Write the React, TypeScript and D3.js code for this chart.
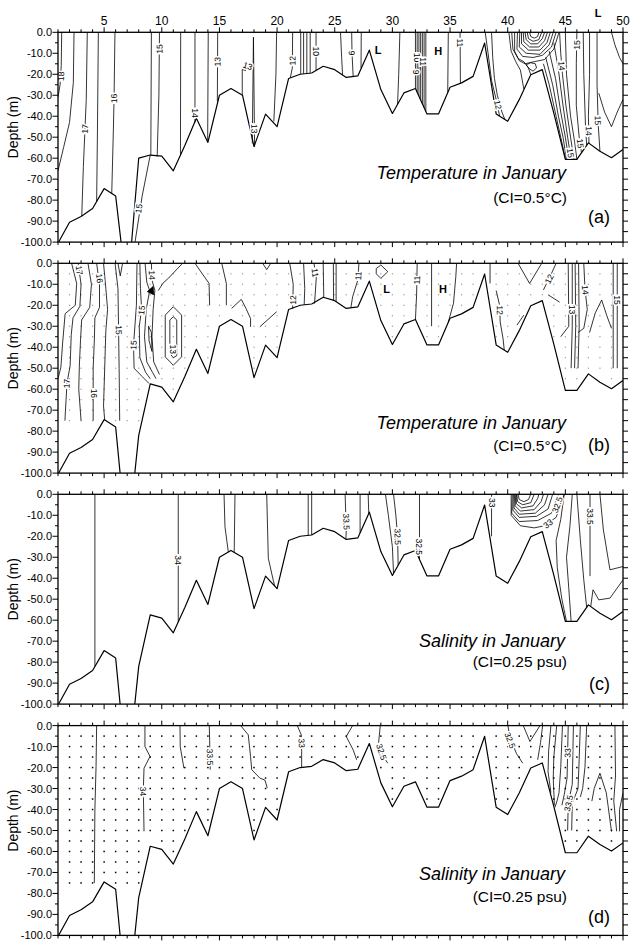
import React from "react";
import * as d3 from "d3";

type Pt = [number, number];
type Lab = [string, number, number];

// ---------- axes ----------
const stationTicks = d3.range(1, 51);
const topTickLabels = [5, 10, 15, 20, 25, 30, 35, 40, 45, 50];
const depthTicks = d3.range(0, -100.1, -5);
const depthLabelTicks = [0, -10, -20, -30, -40, -50, -60, -70, -80, -90, -100];
const dotDepths = d3.range(-5, -75.1, -5);

// ---------- sea floor (station 1..50, depth m) ----------
const groundBCD = [
  -100.5, -90.5, -87.8, -84, -74.5, -78, -135, -82, -57.5, -59,
  -66, -54, -41, -52.5, -30, -26.8, -30, -54.5, -39, -45,
  -22, -20, -19.4, -16.2, -17.8, -21.5, -20.8, -8.5, -27.3, -38.7,
  -28.9, -26.8, -38.9, -38.9, -26.2, -24.1, -21, -5.1, -38.9, -42.4,
  -32.1, -20.2, -17.8, -38.5, -60.6, -60.6, -52.7, -56.7, -59.8, -55.9,
];
const groundA = [
  -100.5, -90.5, -87.8, -84, -74.5, -78, -125, -60, -58.5, -59,
  -66, -54, -41, -52.5, -30, -26.8, -30, -54.5, -39, -45,
  -22, -20, -19.4, -16.2, -17.8, -21.5, -20.8, -8.5, -27.3, -38.7,
  -28.9, -26.8, -38.9, -38.9, -26.2, -24.1, -21, -5.1, -38.9, -42.4,
  -32.1, -20.2, -17.8, -38.5, -60.6, -60.6, -52.7, -56.7, -59.8, -55.9,
];

// ---------- (a) temperature contours ----------
const contoursA: Pt[][] = [
  [[1.32, 0], [1.28, -16], [1.18, -25], [1, -31]],
  [[2.39, 0], [2.33, -24], [2.0, -43], [1.48, -55], [1, -66]],
  [[3.54, 0], [3.45, -32], [3.2, -64], [3.06, -87.6]],
  [[4.5, 0], [4.42, -48], [4.35, -80.8]],
  [[5.94, 0], [5.86, -32], [5.8, -47], [5.66, -77]],
  [[9.1, 0], [9.05, -58.5]],
  [[9.8, 0], [9.75, -30], [9.6, -59.2]],
  [[9.0, -58.5], [8.3, -78], [7.68, -100]],
  [[11.64, 0], [11.62, -58.6]],
  [[12.88, 0], [12.88, -43]],
  [[14.03, 0], [13.98, -52]],
  [[14.85, 0], [14.82, -33]],
  [[16.98, -30], [16.98, -17.7], [17.3, -18.3]],
  [[17.85, -53], [17.95, -2.3], [18.05, -54.5]],
  [[19.96, 0], [19.9, -20], [19.72, -42.5]],
  [[21.35, 0], [21.32, -17], [21.15, -21.6]],
  [[22.05, 0], [22.05, -19.9]],
  [[22.3, 0], [22.3, -19.8]],
  [[22.58, 0], [22.58, -19.6]],
  [[22.87, 0], [22.87, -19.5]],
  [[23.38, 0], [23.38, -18.2]],
  [[25.5, 0], [25.6, -12], [25.68, -20.3]],
  [[26.47, 0], [26.5, -10], [26.6, -21.1]],
  [[27.3, 0], [27.28, -17.1]],
  [[30.65, 0], [30.55, -20], [30.45, -34.3]],
  [[32.0, 0], [32.0, -26.8]],
  [[32.15, 0], [32.15, -28.6]],
  [[32.3, 0], [32.3, -30.4]],
  [[32.45, 0], [32.45, -32.2]],
  [[32.6, 0], [32.6, -34.1]],
  [[32.75, 0], [32.75, -35.9]],
  [[32.9, 0], [32.9, -37.7]],
  [[34.85, 0], [34.8, -28.5]],
  [[35.87, 0], [35.9, -24.3]],
  [[38.05, 0], [38.3, -10], [38.6, -23], [39.0, -32], [39.3, -39.9]],
  [[38.6, 0], [38.7, -12], [38.85, -22], [39.1, -30], [39.5, -38], [39.75, -41.5]],
  [[41.9, 0], [42.0, -2], [42.3, -2.8], [42.6, -2], [42.7, 0]],
  [[41.7, 0], [41.8, -3], [42.2, -4.3], [42.7, -3.5], [42.95, 0]],
  [[41.5, 0], [41.6, -3.5], [42.0, -5.5], [42.6, -5.5], [43.0, -3], [43.2, 0]],
  [[41.35, 0], [41.4, -4.5], [41.9, -7], [42.7, -7], [43.2, -4], [43.45, 0]],
  [[41.2, 0], [41.2, -5.5], [41.8, -8.5], [42.8, -8.5], [43.4, -5], [43.7, 0]],
  [[41.05, 0], [41.0, -7], [41.6, -10], [42.8, -10.5], [43.6, -6], [43.95, 0]],
  [[40.85, 0], [40.8, -8], [41.3, -11.5], [42.2, -12], [43.0, -11], [43.8, -7], [44.2, 0]],
  [[40.6, 0], [40.6, -9], [41.0, -13.5], [41.5, -15], [42.3, -14], [43.2, -13], [44.0, -8], [44.45, 0]],
  [[40.1, 0], [40.3, -9], [40.7, -14], [41.1, -18], [41.4, -27]],
  [[40.35, 0], [40.45, -8], [40.9, -12.5], [41.4, -14], [41.8, -17], [42.0, -20.2]],
  [[41.6, -15.5], [42.0, -14.5], [42.4, -15], [42.5, -17], [42.2, -18.5], [41.9, -17.5], [41.6, -15.5]],
  [[43.1, -15], [43.6, -25], [44.2, -40], [44.6, -50], [45.0, -60]],
  [[43.3, -12], [43.9, -25], [44.4, -40], [44.8, -50], [45.1, -60.6]],
  [[43.6, -9], [44.15, -22], [44.6, -38], [45.0, -50], [45.3, -60.6]],
  [[44.0, -5], [44.4, -18], [44.8, -35], [45.2, -50], [45.5, -60.6]],
  [[44.5, 0], [44.6, -10], [44.75, -20], [45.05, -35], [45.45, -50], [45.75, -60.6]],
  [[45.0, 0], [45.1, -20], [45.45, -40], [45.8, -52], [46.0, -60.6]],
  [[46.0, 0], [45.95, -15], [45.95, -35], [46.2, -50], [46.4, -57.4]],
  [[46.55, 0], [46.6, -20], [46.75, -45], [46.85, -53.9]],
  [[47.1, 0], [47.1, -20], [47.0, -40], [47.05, -52.9]],
  [[47.75, 0], [47.75, -25], [47.85, -44], [48.0, -56.7]],
  [[47.9, -29], [48.4, -38], [49.0, -45], [49.5, -38], [50, -32]],
  [[49.0, 0], [49.3, -6], [49.7, -12], [50, -15]],
];
const labelsA: Lab[] = [
  ["18", 1.26, -21], ["17", 3.34, -46], ["16", 5.86, -31.5], ["15", 9.8, -8], ["15", 8.0, -84],
  ["14", 12.88, -38.5], ["13", 14.83, -14], ["13", 17.45, -16], ["13", 18.03, -46], ["12", 21.34, -13.5],
  ["10", 23.38, -9], ["9", 26.48, -9.9], ["10", 32.15, -12], ["9", 32.05, -19], ["11", 32.65, -14],
  ["11", 35.87, -5], ["12", 39.15, -34.5], ["14", 44.68, -16], ["15", 46.0, -6], ["15", 45.45, -57.5],
  ["15", 46.3, -53], ["14", 47.03, -47], ["15", 47.82, -42],
];
const marksA: Lab[] = [["L", 28.77, -10.4], ["H", 33.97, -10.7], ["L", 47.85, 7.4]];

// ---------- (b) temperature contours ----------
const contoursB: Pt[][] = [
  [[2.18, 0], [2.62, -9.6], [2.5, -20], [1.62, -24], [1.4, -38], [1.25, -49.5], [1, -55]],
  [[2.75, 0], [3.0, -10], [2.9, -20.5], [2.3, -26], [2.15, -34], [2.05, -49], [1.78, -57], [1.6, -75]],
  [[3.6, 0], [3.9, -10], [3.75, -21], [3.05, -27], [2.95, -37], [2.85, -49], [2.8, -60], [3.0, -75]],
  [[4.35, 0], [4.6, -10], [4.6, -21], [4.2, -26], [4.15, -37], [4.05, -50], [4.05, -75]],
  [[4.95, 0], [5.15, -12], [5.3, -22], [5.15, -32], [5.05, -50], [4.95, -68], [5.05, -74.8]],
  [[5.95, 0], [6.2, -12], [6.25, -30], [6.3, -50], [6.35, -75]],
  [[6.2, 0], [6.4, -6], [6.6, 0]],
  [[7.85, 0], [7.8, -20], [7.55, -39], [7.6, -50], [8.3, -54], [8.9, -57.3]],
  [[8.1, 0], [8.15, -12], [8.25, -22], [8.05, -30], [8.1, -45], [8.6, -52], [9.0, -55]],
  [[8.55, 0], [8.7, -9], [8.95, -13], [8.65, -22], [8.5, -35], [8.7, -47], [9.2, -52], [9.5, -55]],
  [[9.1, 0], [9.15, -8], [9.4, -13], [9.25, -22], [9.15, -35], [9.3, -47], [9.8, -53]],
  [[11.8, 0], [10.6, -7], [10.1, -9.5], [9.7, -13]],
  [[8.85, -30], [9.1, -33], [9.15, -42], [8.9, -37], [8.85, -30]],
  [[10.3, -24.7], [11.0, -20.7], [11.72, -24.7], [11.72, -44.6], [11.0, -48.6], [10.3, -44.6], [10.3, -24.7]],
  [[10.7, -27], [11.0, -25.5], [11.3, -27], [11.3, -44], [11.0, -45], [10.7, -43], [10.7, -27]],
  [[12.88, 0], [14.1, -9.6], [14.15, -20]],
  [[15.2, 0], [15.6, -9.6], [15.6, -20]],
  [[16.06, -21.5], [16.9, -17.2], [17.3, -21.5], [17.7, -26.3], [17.7, -30.3]],
  [[18.5, -30.3], [19.96, -23.1]],
  [[18.75, 0], [19.1, -3], [19.45, 0]],
  [[21.1, 0], [21.4, -10], [21.35, -21.7]],
  [[22.3, 0], [22.4, -12], [22.35, -19.8]],
  [[23.2, 0], [23.4, -7], [23.25, -19.2]],
  [[24.0, 0], [24.05, -16.2]],
  [[24.88, 0], [24.9, -17.6]],
  [[25.12, 0], [25.12, -18.2]],
  [[27.1, 0], [27.0, -8], [26.55, -16], [26.4, -21.2]],
  [[28.6, -2.5], [29.0, -0.8], [29.6, -4], [29.0, -7.2], [28.6, -5], [28.6, -2.5]],
  [[32.15, 0], [32.1, -15], [32.0, -26.8]],
  [[33.4, 0], [33.4, -30]],
  [[35.57, 0], [35.5, -6.4], [35.3, -19], [34.85, -28.1]],
  [[38.47, 0], [38.47, -9.6]],
  [[39.0, -13], [39.3, -20], [39.35, -28], [39.6, -36], [39.7, -41.3]],
  [[40.8, -29.5], [41.4, -24.7]],
  [[40.9, 0], [41.9, -9.6], [42.95, 0]],
  [[44.2, 0], [43.8, -4.8], [43.1, -12.7]],
  [[43.5, -15], [44.5, -18.5]],
  [[45.25, 0], [45.3, -30], [44.6, -35]],
  [[45.6, 0], [45.6, -30], [45.5, -50]],
  [[45.85, 0], [45.9, -30], [45.8, -50]],
  [[46.15, 0], [46.2, -30], [46.1, -50]],
  [[46.6, 0], [46.7, -12], [46.9, -22], [46.6, -31], [46.1, -33]],
  [[47.1, -33], [47.6, -23.6], [48.15, -17.5], [48.6, -25], [49.0, -31]],
  [[49.15, 0], [49.15, -50]],
  [[49.5, 0], [49.5, -50]],
];
const filledB: Pt[][] = [[[8.75, -13.5], [9.25, -11], [9.3, -15], [8.75, -13.5]]];
const labelsB: Lab[] = [
  ["17", 2.85, -3.3], ["16", 4.6, -7.2], ["17", 1.75, -57.3], ["16", 4.08, -62], ["15", 6.27, -31.8],
  ["15", 7.55, -39], ["15", 8.25, -22.3], ["14", 9.15, -5.6], ["13", 11.0, -41], ["12", 21.38, -17.5],
  ["11", 23.3, -4.5], ["11", 27.05, -6], ["11", 32.13, -8], ["12", 39.32, -22.3], ["12", 43.6, -7.5],
  ["13", 45.6, -22], ["14", 46.72, -12.7], ["15", 49.5, -17.5],
];
const marksB: Lab[] = [["L", 29.5, -14], ["H", 34.39, -14.3]];

// ---------- (c) salinity contours ----------
const contoursC: Pt[][] = [
  [[4.2, 0], [4.2, -82.1]],
  [[11.43, 0], [11.43, -60.8]],
  [[15.4, 0], [15.48, -15.4], [15.77, -27.5]],
  [[16.35, 0], [16.28, -27.7]],
  [[19.1, 0], [19.24, -30.5], [19.67, -41], [19.8, -43.8]],
  [[22.7, 0], [22.7, -19.6]],
  [[23.0, 0], [23.0, -19.4]],
  [[25.9, 0], [26.0, -17], [25.97, -21.4]],
  [[27.2, 0], [27.2, -18.3]],
  [[27.9, 0], [27.95, -9.1]],
  [[29.4, 0], [29.65, -10], [30.0, -25], [30.1, -37.7]],
  [[30.1, 0], [30.3, -10], [30.45, -20], [30.5, -33.8]],
  [[32.35, 0], [32.35, -31]],
  [[38.6, 0], [38.6, -20]],
  [[40.9, 0], [41.0, -2.5], [41.4, -3.5], [41.8, -2.5], [42.0, 0]],
  [[40.8, 0], [40.85, -3.5], [41.3, -5], [42.0, -4], [42.3, 0]],
  [[40.75, 0], [40.75, -4.5], [41.2, -6.5], [42.2, -5.5], [42.6, -2], [42.7, 0]],
  [[40.7, 0], [40.65, -5.5], [41.1, -8], [42.3, -7.3], [42.9, -3.5], [43.1, 0]],
  [[40.6, 0], [40.55, -6.5], [41.0, -9.5], [42.4, -9], [43.2, -5], [43.5, 0]],
  [[40.5, 0], [40.45, -7.5], [41.0, -11], [42.5, -10.5], [43.5, -7], [43.9, 0]],
  [[40.4, 0], [40.35, -9], [41.0, -13], [42.6, -12.5], [43.8, -9], [44.4, 0]],
  [[40.3, 0], [40.3, -10], [41.1, -15], [42.3, -16], [43.2, -15], [44.2, -11], [44.9, 0]],
  [[44.9, 0], [44.6, -12], [44.2, -22], [44.3, -35], [44.7, -50], [45.1, -60.6]],
  [[45.6, 0], [45.4, -15], [45.1, -30], [45.3, -45], [45.5, -60.6]],
  [[46.0, 0], [46.3, -21.7], [46.6, -40.8], [46.85, -53.9]],
  [[47.14, 0], [47.14, -39]],
  [[48.0, 0], [48.3, -17], [48.87, -36], [50, -34.4]],
  [[47.2, -53.5], [47.4, -45.5], [47.9, -50.3], [48.87, -49.5], [50, -40.8]],
];
const labelsC: Lab[] = [
  ["34", 11.43, -31.3], ["33.5", 26.0, -13], ["32.5", 30.45, -20.2], ["32.5", 32.35, -25],
  ["33", 38.6, -4], ["32.5", 44.3, -5], ["33", 43.5, -14], ["33.5", 47.14, -10.6],
];

// ---------- (d) salinity contours ----------
const contoursD: Pt[][] = [
  [[4.35, 0], [4.3, -19.5], [4.2, -40], [4.15, -75]],
  [[8.54, 0], [8.54, -10], [8.98, -14.7], [8.46, -20.3], [8.4, -30.6], [8.46, -50.4]],
  [[11.58, 0], [11.6, -10], [11.92, -20.3]],
  [[14.12, 0], [14.15, -7], [14.2, -21]],
  [[16.84, 0], [17.5, -4.4], [17.7, -14.7], [17.8, -21], [18.5, -25], [18.95, -26], [19.15, -29.8]],
  [[21.75, 0], [22.1, -4.4], [22.13, -12.4], [22.13, -19.8]],
  [[26.55, 0], [26.0, -5.2], [26.6, -11.6], [26.9, -16.3]],
  [[28.95, 0], [28.8, -8.4], [29.2, -14.7], [29.6, -17.9]],
  [[40.02, 0], [40.17, -5.2], [40.75, -13.2], [41.3, -17.9]],
  [[41.35, 0], [41.93, -7.6], [42.8, 0]],
  [[43.03, 0], [42.85, -8], [42.6, -16.3]],
  [[43.75, 0], [43.55, -12], [43.5, -22], [43.75, -32]],
  [[44.25, 0], [44.0, -15], [43.95, -25], [44.05, -38]],
  [[44.75, 0], [44.6, -20], [44.45, -32], [44.3, -35.5], [44.1, -39]],
  [[45.25, 0], [45.15, -25], [44.9, -33], [44.7, -38]],
  [[45.7, 0], [45.6, -28], [45.25, -37], [45.2, -50]],
  [[46.3, 0], [46.2, -16], [46.1, -30], [45.6, -37], [45.55, -50]],
  [[46.85, 0], [46.7, -20], [46.5, -30], [46.3, -34]],
  [[47.3, -36], [47.5, -30], [48.0, -22.7], [48.55, -32], [48.7, -38], [49.0, -50.4]],
  [[49.3, 0], [49.35, -24], [49.2, -36], [49.45, -50.4]],
  [[50, -32], [49.7, -40], [49.7, -50.4]],
];
const labelsD: Lab[] = [
  ["34", 8.38, -31.4], ["33.5", 14.18, -15], ["33", 22.13, -8.4], ["32.5", 29.05, -12.5],
  ["32.5", 40.2, -7], ["33", 45.2, -13], ["33.5", 45.27, -37],
];

const FONT = "'Liberation Sans', Arial, Helvetica, sans-serif";
const X0 = 58;
const X1 = 623;
const PH = 209.8;

export default function App() {
  const x = d3.scaleLinear().domain([1, 50]).range([X0, X1]);

  const panels = [
    { id: "a", top: 32.3, ground: groundA, contours: contoursA, filled: [] as Pt[][], labels: labelsA, marks: marksA, dots: null as null | string,
      title: "Temperature in January", ci: "(CI=0.5°C)", tag: "(a)", tY: 146.7, cY: 170.4, gY: 190.7, tX: 566, topLabels: true },
    { id: "b", top: 263.3, ground: groundBCD, contours: contoursB, filled: filledB, labels: labelsB, marks: marksB, dots: "#9a9a9a",
      title: "Temperature in January", ci: "(CI=0.5°C)", tag: "(b)", tY: 165.7, cY: 187.4, gY: 187.4, tX: 566, topLabels: false },
    { id: "c", top: 494.3, ground: groundBCD, contours: contoursC, filled: [] as Pt[][], labels: labelsC, marks: [] as Lab[], dots: null,
      title: "Salinity in January", ci: "(CI=0.25 psu)", tag: "(c)", tY: 152.7, cY: 173.1, gY: 195.4, tX: 565, topLabels: false },
    { id: "d", top: 725.6, ground: groundBCD, contours: contoursD, filled: [] as Pt[][], labels: labelsD, marks: [] as Lab[], dots: "#000",
      title: "Salinity in January", ci: "(CI=0.25 psu)", tag: "(d)", tY: 154, cY: 176, gY: 197.4, tX: 565, topLabels: false },
  ];

  return (
    <svg width={632} height={942} style={{ position: "absolute", left: 0, top: 0, background: "#fff" }} fontFamily={FONT}>
      <rect x={0} y={0} width={632} height={942} fill="#fff" />
      {panels.map((p) => {
        const y = d3.scaleLinear().domain([0, -100]).range([p.top, p.top + PH]);
        const line = d3.line<Pt>().x((d) => x(d[0])).y((d) => y(d[1]));
        const groundPts: Pt[] = p.ground.map((g, i) => [i + 1, g] as Pt);
        const pix = p.contours.map((c) => c.map((q) => [x(q[0]), y(q[1])] as [number, number]));
        const angleAt = (px: number, py: number) => {
          let best = Infinity;
          let ang = 90;
          pix.forEach((pl) => {
            for (let i = 0; i < pl.length - 1; i++) {
              const [ax, ay] = pl[i];
              const [bx, by] = pl[i + 1];
              const dx = bx - ax, dy = by - ay;
              const L2 = dx * dx + dy * dy || 1;
              let t = ((px - ax) * dx + (py - ay) * dy) / L2;
              t = Math.max(0, Math.min(1, t));
              const cx = ax + t * dx, cy = ay + t * dy;
              const dist = (px - cx) ** 2 + (py - cy) ** 2;
              if (dist < best) {
                best = dist;
                let a = (Math.atan2(dy, dx) * 180) / Math.PI;
                if (a > 90) a -= 180;
                if (a <= -90) a += 180;
                ang = a;
              }
            }
          });
          return ang;
        };
        const clipId = `clip-${p.id}`;
        const dots: Pt[] = [];
        if (p.dots) {
          stationTicks.forEach((s) => {
            if (s < 2 || s > 49) return;
            dotDepths.forEach((dd) => {
              if (dd > p.ground[s - 1] + 2.5) dots.push([s, dd]);
            });
          });
        }
        return (
          <g key={p.id}>
            <defs>
              <clipPath id={clipId}>
                <rect x={X0} y={p.top} width={X1 - X0} height={PH} />
              </clipPath>
            </defs>
            <g clipPath={`url(#${clipId})`}>
              {dots.map((d, i) =>
                p.dots === "#000" ? (
                  <rect key={i} x={x(d[0]) - 0.75} y={y(d[1]) - 0.75} width={1.5} height={1.5} fill="#000" />
                ) : (
                  <rect key={i} x={x(d[0]) - 0.6} y={y(d[1]) - 0.6} width={1.2} height={1.2} fill={p.dots as string} />
                )
              )}
              {p.contours.map((c, i) => (
                <path key={i} d={line(c) || ""} fill="none" stroke="#000" strokeWidth={0.8} strokeLinejoin="round" />
              ))}
              {p.filled.map((c, i) => (
                <path key={"f" + i} d={line(c) || ""} fill="#000" stroke="#000" strokeWidth={0.8} />
              ))}
              <path d={line(groundPts) || ""} fill="none" stroke="#000" strokeWidth={1.2} strokeLinejoin="round" />
              {p.labels.map(([t, s, dd], i) => {
                const px = x(s), py = y(dd);
                const a = angleAt(px, py);
                return (
                  <text key={"l" + i} x={0} y={0} transform={`translate(${px},${py}) rotate(${a})`} fontSize={8.5}
                    textAnchor="middle" dominantBaseline="central" fill="#000" stroke="#fff" strokeWidth={3}
                    paintOrder="stroke" style={{ paintOrder: "stroke" }}>
                    {t}
                  </text>
                );
              })}
            </g>
            {p.marks.map(([t, s, dd], i) => (
              <text key={"m" + i} x={x(s)} y={y(dd)} fontSize={11} fontWeight="bold" textAnchor="middle" fill="#000">
                {t}
              </text>
            ))}
            <rect x={X0} y={p.top} width={X1 - X0} height={PH} fill="none" stroke="#000" strokeWidth={1.3} />
            {stationTicks.map((s) => {
              const len = s % 5 === 0 ? 5 : 3;
              return (
                <g key={"xt" + s}>
                  <line x1={x(s)} x2={x(s)} y1={p.top} y2={p.top - len} stroke="#000" strokeWidth={1} />
                  <line x1={x(s)} x2={x(s)} y1={p.top + PH} y2={p.top + PH + len} stroke="#000" strokeWidth={1} />
                </g>
              );
            })}
            {p.topLabels &&
              topTickLabels.map((s) => (
                <text key={"tl" + s} x={x(s)} y={25} fontSize={12} textAnchor="middle" fill="#000">
                  {s}
                </text>
              ))}
            {depthTicks.map((dd) => {
              const major = Math.round(dd) % 10 === 0;
              return (
                <g key={"yt" + dd}>
                  <line x1={X0} x2={X0 - (major ? 5.5 : 3)} y1={y(dd)} y2={y(dd)} stroke="#000" strokeWidth={1} />
                  <line x1={X1} x2={X1 + 5} y1={y(dd)} y2={y(dd)} stroke="#000" strokeWidth={1} />
                </g>
              );
            })}
            {depthLabelTicks.map((dd) => (
              <text key={"yl" + dd} x={52} y={y(dd)} fontSize={11} textAnchor="end" dominantBaseline="central" fill="#000">
                {dd.toFixed(1)}
              </text>
            ))}
            <text transform={`translate(18,${p.top + 95}) rotate(-90)`} fontSize={14} textAnchor="middle" fill="#000">
              Depth (m)
            </text>
            <text x={p.tX} y={p.top + p.tY} fontSize={18} fontStyle="italic" textAnchor="end" fill="#000">
              {p.title}
            </text>
            <text x={567} y={p.top + p.cY} fontSize={15.5} textAnchor="end" fill="#000">
              {p.ci}
            </text>
            <text x={610} y={p.top + p.gY} fontSize={18} textAnchor="end" fill="#000">
              {p.tag}
            </text>
          </g>
        );
      })}
    </svg>
  );
}
